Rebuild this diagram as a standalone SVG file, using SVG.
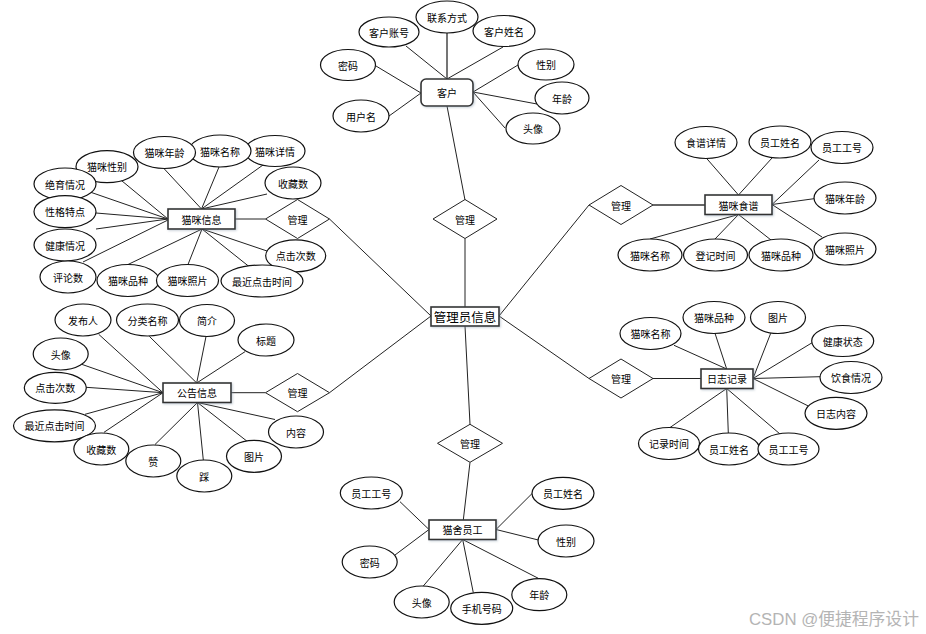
<svg xmlns="http://www.w3.org/2000/svg" width="926" height="634" viewBox="0 0 926 634">
<defs>
<style>
.l{stroke:#222;stroke-width:1;fill:none}
.lg{stroke:#666;stroke-width:1.8;fill:none}
.e{fill:#fff;stroke:#111;stroke-width:1.2}
.r{fill:#fff;stroke:#333;stroke-width:1.6;filter:url(#sh)}
.d{fill:#fff;stroke:#222;stroke-width:1}
text{font-family:"Noto Sans CJK SC","Noto Sans",sans-serif;font-size:10px;text-anchor:middle;dominant-baseline:central;fill:#000}
.big{font-size:12.5px}
.wm{font-family:"Liberation Sans","Noto Sans CJK SC",sans-serif;font-size:16.8px;fill:#b4b4b4;text-anchor:start;dominant-baseline:alphabetic}
</style>
<filter id="sh" x="-20%" y="-30%" width="140%" height="160%">
<feDropShadow dx="1" dy="1" stdDeviation="0.8" flood-color="#8899aa" flood-opacity="0.45"/>
</filter>
</defs>
<rect width="926" height="634" fill="#fff"/>
<g id="connectors">
<line class="lg" x1="447" y1="33" x2="447" y2="79"/>
<line class="l" x1="406" y1="46" x2="447" y2="79"/>
<line class="l" x1="503" y1="47" x2="447" y2="79"/>
<line class="l" x1="376" y1="66" x2="421" y2="93"/>
<line class="l" x1="389" y1="116" x2="421" y2="93"/>
<line class="l" x1="518" y1="65" x2="473" y2="92"/>
<line class="l" x1="537" y1="104" x2="473" y2="92"/>
<line class="l" x1="505" y1="128" x2="473" y2="92"/>
<line class="l" x1="447" y1="106" x2="465" y2="200"/>
<line class="l" x1="465" y1="238.5" x2="465" y2="307"/>
<line class="l" x1="431" y1="316" x2="329.5" y2="219"/>
<line class="l" x1="431" y1="316" x2="329.5" y2="392.7"/>
<line class="l" x1="499" y1="316" x2="589" y2="205"/>
<line class="l" x1="499" y1="316" x2="589" y2="378.5"/>
<line class="l" x1="465" y1="326" x2="470" y2="424.3"/>
<line class="l" x1="235" y1="219" x2="265.5" y2="219"/>
<line class="l" x1="116" y1="176" x2="168" y2="219"/>
<line class="l" x1="90" y1="192" x2="168" y2="219"/>
<line class="l" x1="96" y1="213" x2="168" y2="219"/>
<line class="l" x1="96" y1="229" x2="168" y2="219"/>
<line class="l" x1="83" y1="262" x2="168" y2="220"/>
<line class="l" x1="163" y1="167.5" x2="201.5" y2="209"/>
<line class="l" x1="219" y1="167" x2="201.5" y2="209"/>
<line class="l" x1="263" y1="165" x2="201.5" y2="209"/>
<line class="l" x1="267" y1="194" x2="201.5" y2="209"/>
<line class="l" x1="128" y1="264.5" x2="202" y2="229"/>
<line class="l" x1="188" y1="264.5" x2="202" y2="229"/>
<line class="l" x1="249" y1="266.5" x2="202" y2="229"/>
<line class="l" x1="267" y1="251" x2="202" y2="229"/>
<line class="l" x1="231" y1="392.7" x2="265.5" y2="392.7"/>
<line class="l" x1="98.7" y1="334.3" x2="163" y2="392.7"/>
<line class="l" x1="81.7" y1="364.3" x2="163" y2="392.7"/>
<line class="l" x1="86" y1="387.3" x2="163" y2="392.7"/>
<line class="l" x1="85" y1="414.3" x2="163" y2="392.7"/>
<line class="l" x1="104" y1="432.3" x2="163" y2="392.7"/>
<line class="l" x1="149.3" y1="336.3" x2="196.7" y2="383"/>
<line class="l" x1="206" y1="336.5" x2="196.7" y2="383"/>
<line class="l" x1="245" y1="351.7" x2="196.7" y2="383"/>
<line class="l" x1="155" y1="444.5" x2="197.5" y2="402.5"/>
<line class="l" x1="203.3" y1="460" x2="197.5" y2="402.5"/>
<line class="l" x1="248" y1="442" x2="197.5" y2="402.5"/>
<line class="l" x1="275" y1="419.5" x2="197.5" y2="402.5"/>
<line class="lg" x1="653" y1="205" x2="705" y2="205"/>
<line class="l" x1="706.7" y1="158.5" x2="738.5" y2="195"/>
<line class="l" x1="772" y1="158" x2="738.5" y2="195"/>
<line class="l" x1="819" y1="160" x2="772" y2="204.5"/>
<line class="l" x1="814" y1="198.7" x2="772" y2="204.5"/>
<line class="l" x1="822" y1="237" x2="772" y2="204.5"/>
<line class="l" x1="650" y1="239" x2="738.5" y2="214.5"/>
<line class="l" x1="715" y1="239" x2="738.5" y2="214.5"/>
<line class="l" x1="771" y1="240" x2="738.5" y2="214.5"/>
<line class="l" x1="653" y1="378.5" x2="701" y2="378.5"/>
<line class="l" x1="674" y1="345.3" x2="726.7" y2="369"/>
<line class="l" x1="715" y1="333.3" x2="726.7" y2="369"/>
<line class="l" x1="770.7" y1="333.3" x2="753" y2="378.5"/>
<line class="l" x1="813.3" y1="342" x2="753" y2="378.5"/>
<line class="l" x1="820" y1="376.7" x2="753" y2="378.5"/>
<line class="l" x1="808.3" y1="406" x2="753" y2="378.5"/>
<line class="l" x1="670" y1="427.5" x2="726.7" y2="388.5"/>
<line class="l" x1="728.3" y1="433" x2="726.7" y2="388.5"/>
<line class="l" x1="780" y1="434" x2="726.7" y2="388.5"/>
<line class="l" x1="470" y1="462.3" x2="463.3" y2="520"/>
<line class="l" x1="400" y1="501.7" x2="429" y2="529.5"/>
<line class="l" x1="395" y1="555" x2="429" y2="529.5"/>
<line class="l" x1="532.3" y1="493.3" x2="496" y2="529.5"/>
<line class="l" x1="538.3" y1="540" x2="496" y2="529.5"/>
<line class="l" x1="423.3" y1="586" x2="462.7" y2="539.5"/>
<line class="l" x1="473.3" y1="592.7" x2="462.7" y2="539.5"/>
<line class="l" x1="538.3" y1="578.3" x2="462.7" y2="539.5"/>
</g>

<g id="kehu">
<rect class="r" x="421" y="79" width="52" height="27" rx="5"/>
<text x="447" y="92.5">客户</text>
</g>
<g id="kehu-lianxi"><ellipse class="e" cx="447" cy="17" rx="31" ry="16"/><text x="447" y="17">联系方式</text></g>
<g id="kehu-zhanghao"><ellipse class="e" cx="389" cy="32" rx="30" ry="15"/><text x="389" y="32">客户账号</text></g>
<g id="kehu-xingming"><ellipse class="e" cx="504" cy="31" rx="31" ry="15.5"/><text x="504" y="31">客户姓名</text></g>
<g id="kehu-mima"><ellipse class="e" cx="348" cy="65" rx="27.5" ry="15.5"/><text x="348" y="65">密码</text></g>
<g id="kehu-yonghuming"><ellipse class="e" cx="361" cy="116" rx="28" ry="16"/><text x="361" y="116">用户名</text></g>
<g id="kehu-xingbie"><ellipse class="e" cx="546" cy="64.5" rx="28" ry="15.5"/><text x="546" y="64.5">性别</text></g>
<g id="kehu-nianling"><ellipse class="e" cx="562" cy="98" rx="27" ry="16"/><text x="562" y="98">年龄</text></g>
<g id="kehu-touxiang"><ellipse class="e" cx="533" cy="128.5" rx="27" ry="15.5"/><text x="533" y="128.5">头像</text></g>

<g id="guanli-top"><polygon class="d" points="465,199.5 497,219 465,238.5 433,219"/><text x="465" y="219">管理</text></g>

<g id="admin">
<rect class="r" x="431" y="307" width="68" height="19"/>
<text class="big" x="465" y="316.5">管理员信息</text>
</g>

<g id="maomi-xinxi"><rect class="r" x="168" y="209" width="67" height="20"/><text x="201.5" y="219">猫咪信息</text></g>
<g id="guanli-maomi"><polygon class="d" points="265.5,219 297.5,199.5 329.5,219 297.5,238.5"/><text x="297.5" y="219">管理</text></g>
<g id="mm-xiangqing"><ellipse class="e" cx="275" cy="151" rx="30" ry="15.5"/><text x="275" y="151">猫咪详情</text></g>
<g id="mm-mingcheng"><ellipse class="e" cx="220" cy="151" rx="31" ry="16"/><text x="220" y="151">猫咪名称</text></g>
<g id="mm-nianling"><ellipse class="e" cx="164.5" cy="152.5" rx="31" ry="16"/><text x="164.5" y="152.5">猫咪年龄</text></g>
<g id="mm-xingbie"><ellipse class="e" cx="107" cy="166.7" rx="31" ry="16"/><text x="107" y="166.7">猫咪性别</text></g>
<g id="mm-jueyu"><ellipse class="e" cx="65" cy="184" rx="31" ry="16"/><text x="65" y="184">绝育情况</text></g>
<g id="mm-shoucang"><ellipse class="e" cx="293" cy="183" rx="28" ry="16"/><text x="293" y="183">收藏数</text></g>
<g id="mm-xingge"><ellipse class="e" cx="65" cy="211.7" rx="31" ry="16"/><text x="65" y="211.7">性格特点</text></g>
<g id="mm-jiankang"><ellipse class="e" cx="65" cy="245" rx="31" ry="16"/><text x="65" y="245">健康情况</text></g>
<g id="mm-pinglun"><ellipse class="e" cx="68" cy="277" rx="28" ry="16"/><text x="68" y="277">评论数</text></g>
<g id="mm-dianji"><ellipse class="e" cx="295.7" cy="255.8" rx="30" ry="16"/><text x="295.7" y="255.8">点击次数</text></g>
<g id="mm-pinzhong"><ellipse class="e" cx="128" cy="280.5" rx="31" ry="16"/><text x="128" y="280.5">猫咪品种</text></g>
<g id="mm-zhaopian"><ellipse class="e" cx="187.5" cy="280.5" rx="31" ry="16"/><text x="187.5" y="280.5">猫咪照片</text></g>
<g id="mm-zuijin"><ellipse class="e" cx="262" cy="281" rx="41" ry="16"/><text x="262" y="281">最近点击时间</text></g>

<g id="gonggao"><rect class="r" x="163" y="383" width="68" height="19.5"/><text x="197" y="392.7">公告信息</text></g>
<g id="guanli-gonggao"><polygon class="d" points="265.5,392.7 297.5,373.5 329.5,392.7 297.5,411.7"/><text x="297.5" y="392.7">管理</text></g>
<g id="gg-faburen"><ellipse class="e" cx="83" cy="320" rx="28" ry="16"/><text x="83" y="320">发布人</text></g>
<g id="gg-fenlei"><ellipse class="e" cx="147.5" cy="320" rx="31" ry="16"/><text x="147.5" y="320">分类名称</text></g>
<g id="gg-jianjie"><ellipse class="e" cx="207" cy="320.5" rx="27.5" ry="16"/><text x="207" y="320.5">简介</text></g>
<g id="gg-biaoti"><ellipse class="e" cx="266" cy="340" rx="28" ry="16"/><text x="266" y="340">标题</text></g>
<g id="gg-touxiang"><ellipse class="e" cx="60.7" cy="354" rx="27.5" ry="16"/><text x="60.7" y="354">头像</text></g>
<g id="gg-dianji"><ellipse class="e" cx="55.3" cy="387.8" rx="31" ry="15.5"/><text x="55.3" y="387.8">点击次数</text></g>
<g id="gg-zuijin"><ellipse class="e" cx="54.5" cy="425.8" rx="41" ry="16"/><text x="54.5" y="425.8">最近点击时间</text></g>
<g id="gg-shoucang"><ellipse class="e" cx="101.3" cy="449" rx="27.5" ry="16"/><text x="101.3" y="449">收藏数</text></g>
<g id="gg-zan"><ellipse class="e" cx="153.3" cy="461" rx="27.5" ry="16"/><text x="153.3" y="461">赞</text></g>
<g id="gg-cai"><ellipse class="e" cx="204.3" cy="476" rx="27.5" ry="16"/><text x="204.3" y="476">踩</text></g>
<g id="gg-tupian"><ellipse class="e" cx="254" cy="456.3" rx="27.5" ry="16"/><text x="254" y="456.3">图片</text></g>
<g id="gg-neirong"><ellipse class="e" cx="296" cy="432" rx="27.5" ry="16"/><text x="296" y="432">内容</text></g>

<g id="guanli-shipu"><polygon class="d" points="589,205 621,185.5 653,205 621,224.5"/><text x="621" y="205">管理</text></g>
<g id="shipu"><rect class="r" x="705" y="195" width="67" height="19.5"/><text x="738.5" y="205">猫咪食谱</text></g>
<g id="sp-xiangqing"><ellipse class="e" cx="706" cy="142.5" rx="31" ry="16"/><text x="706" y="142.5">食谱详情</text></g>
<g id="sp-xingming"><ellipse class="e" cx="780" cy="142" rx="31" ry="16"/><text x="780" y="142">员工姓名</text></g>
<g id="sp-gonghao"><ellipse class="e" cx="842" cy="147.5" rx="31" ry="16"/><text x="842" y="147.5">员工工号</text></g>
<g id="sp-nianling"><ellipse class="e" cx="845" cy="198" rx="31" ry="16"/><text x="845" y="198">猫咪年龄</text></g>
<g id="sp-zhaopian"><ellipse class="e" cx="845" cy="249" rx="31" ry="16"/><text x="845" y="249">猫咪照片</text></g>
<g id="sp-mingcheng"><ellipse class="e" cx="650" cy="255" rx="32" ry="16"/><text x="650" y="255">猫咪名称</text></g>
<g id="sp-dengji"><ellipse class="e" cx="715.5" cy="255" rx="32" ry="16"/><text x="715.5" y="255">登记时间</text></g>
<g id="sp-pinzhong"><ellipse class="e" cx="781" cy="255" rx="32" ry="16"/><text x="781" y="255">猫咪品种</text></g>

<g id="guanli-rizhi"><polygon class="d" points="589,378.5 621,359 653,378.5 621,398"/><text x="621" y="378.5">管理</text></g>
<g id="rizhi"><rect class="r" x="701" y="369" width="52" height="19.5"/><text x="727" y="378.7">日志记录</text></g>
<g id="rz-mingcheng"><ellipse class="e" cx="650.5" cy="333.5" rx="30.5" ry="16"/><text x="650.5" y="333.5">猫咪名称</text></g>
<g id="rz-pinzhong"><ellipse class="e" cx="714" cy="317.5" rx="31" ry="16"/><text x="714" y="317.5">猫咪品种</text></g>
<g id="rz-tupian"><ellipse class="e" cx="778" cy="317.5" rx="27.5" ry="16"/><text x="778" y="317.5">图片</text></g>
<g id="rz-jiankang"><ellipse class="e" cx="842.7" cy="341" rx="31" ry="15.5"/><text x="842.7" y="341">健康状态</text></g>
<g id="rz-yinshi"><ellipse class="e" cx="851" cy="377.5" rx="31" ry="16"/><text x="851" y="377.5">饮食情况</text></g>
<g id="rz-neirong"><ellipse class="e" cx="836" cy="413.3" rx="31" ry="16"/><text x="836" y="413.3">日志内容</text></g>
<g id="rz-shijian"><ellipse class="e" cx="669" cy="443.5" rx="30.5" ry="16"/><text x="669" y="443.5">记录时间</text></g>
<g id="rz-xingming"><ellipse class="e" cx="729" cy="449" rx="30.5" ry="16"/><text x="729" y="449">员工姓名</text></g>
<g id="rz-gonghao"><ellipse class="e" cx="788.5" cy="449" rx="30.5" ry="16"/><text x="788.5" y="449">员工工号</text></g>

<g id="guanli-yuangong"><polygon class="d" points="437.5,443.3 470,424.3 502.5,443.3 470,462.3"/><text x="470" y="443.3">管理</text></g>
<g id="yuangong"><rect class="r" x="429" y="520" width="67" height="19.5"/><text x="462.5" y="529.7">猫舍员工</text></g>
<g id="yg-gonghao"><ellipse class="e" cx="371.3" cy="493" rx="31" ry="16"/><text x="371.3" y="493">员工工号</text></g>
<g id="yg-xingming"><ellipse class="e" cx="563" cy="493.3" rx="31" ry="16"/><text x="563" y="493.3">员工姓名</text></g>
<g id="yg-xingbie"><ellipse class="e" cx="566" cy="541" rx="28" ry="16"/><text x="566" y="541">性别</text></g>
<g id="yg-mima"><ellipse class="e" cx="369.7" cy="562" rx="27.5" ry="16"/><text x="369.7" y="562">密码</text></g>
<g id="yg-touxiang"><ellipse class="e" cx="421.7" cy="602" rx="27.5" ry="16"/><text x="421.7" y="602">头像</text></g>
<g id="yg-shouji"><ellipse class="e" cx="481.7" cy="608.3" rx="31" ry="16"/><text x="481.7" y="608.3">手机号码</text></g>
<g id="yg-nianling"><ellipse class="e" cx="539.3" cy="594.7" rx="27.5" ry="16"/><text x="539.3" y="594.7">年龄</text></g>

<text class="wm" x="749" y="625">CSDN @便捷程序设计</text>
</svg>
